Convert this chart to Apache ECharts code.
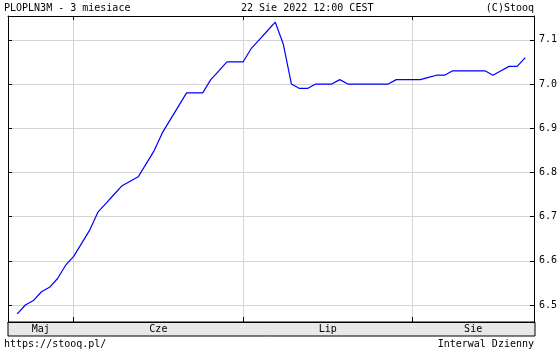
<!DOCTYPE html>
<html><head><meta charset="utf-8">
<script src="https://cdn.jsdelivr.net/npm/echarts@6/dist/echarts.min.js"></script>
<style>html,body{margin:0;padding:0;background:#fff}#c{width:560px;height:350px}</style>
</head><body><div id="c"></div>
<script>
// Trading days (x positions are the index of each day)
var dates = [
 '2022-05-23','2022-05-24','2022-05-25','2022-05-26','2022-05-27','2022-05-30','2022-05-31',
 '2022-06-01','2022-06-02','2022-06-03','2022-06-06','2022-06-07','2022-06-08','2022-06-09','2022-06-10',
 '2022-06-13','2022-06-14','2022-06-15','2022-06-17','2022-06-20','2022-06-21','2022-06-22','2022-06-23',
 '2022-06-24','2022-06-27','2022-06-28','2022-06-29','2022-06-30',
 '2022-07-01','2022-07-04','2022-07-05','2022-07-06','2022-07-07','2022-07-08','2022-07-11','2022-07-12',
 '2022-07-13','2022-07-14','2022-07-15','2022-07-18','2022-07-19','2022-07-20','2022-07-21','2022-07-22',
 '2022-07-25','2022-07-26','2022-07-27','2022-07-28','2022-07-29',
 '2022-08-01','2022-08-02','2022-08-03','2022-08-04','2022-08-05','2022-08-08','2022-08-09','2022-08-10',
 '2022-08-11','2022-08-12','2022-08-16','2022-08-17','2022-08-18','2022-08-19','2022-08-22'
];
var values = [
 6.48,6.50,6.51,6.53,6.54,6.56,6.59,
 6.61,6.64,6.67,6.71,6.73,6.75,6.77,6.78,
 6.79,6.82,6.85,6.89,6.92,6.95,6.98,6.98,
 6.98,7.01,7.03,7.05,7.05,
 7.05,7.08,7.10,7.12,7.14,7.09,7.00,6.99,
 6.99,7.00,7.00,7.00,7.01,7.00,7.00,7.00,
 7.00,7.00,7.00,7.01,7.01,
 7.01,7.01,7.015,7.02,7.02,7.03,7.03,7.03,
 7.03,7.03,7.02,7.03,7.04,7.04,7.06
];
var monthNames = ['Maj','Cze','Lip','Sie'];
var yTicks = ['6.5','6.6','6.7','6.8','6.9','7.0','7.1'];
var titleLeft = 'PLOPLN3M - 3 miesiace';
var titleMid = '22 Sie 2022 12:00 CEST';
var titleRight = '(C)Stooq';
var footLeft = 'https://stooq.pl/';
var footRight = 'Interwal Dzienny';

var X_MIN = -1.15, X_MAX = 64.08;
var Y_MIN = 6.4615, Y_MAX = 7.154;

// month boundaries = first trading day of each month
var bounds = [];
for (var i = 1; i < dates.length; i++) {
  if (dates[i].slice(5,7) !== dates[i-1].slice(5,7)) bounds.push(i);
}
var edges = [X_MIN].concat(bounds).concat([X_MAX]);
var labelPos = [];
for (var k = 0; k < edges.length - 1; k++) labelPos.push((edges[k] + edges[k+1]) / 2);

var data = values.map(function (v, i) { return [i, v]; });
var font = 'DejaVu Sans Mono';
var ts = {fontFamily: font, fontSize: 10, fontWeight: 'normal', color: '#000'};

var chart = echarts.init(document.getElementById('c'), null, {renderer: 'canvas'});
chart.setOption({
  animation: false,
  backgroundColor: '#fff',
  title: [
    {text: titleLeft, left: 4, top: 3, padding: 0, textStyle: ts},
    {text: titleMid, left: 241, top: 3, padding: 0, textStyle: ts},
    {text: titleRight, right: 26, top: 3, padding: 0, textStyle: ts},
    {text: footLeft, left: 4, top: 339, padding: 0, textStyle: ts},
    {text: footRight, right: 26, top: 339, padding: 0, textStyle: ts}
  ],
  graphic: [{
    type: 'rect', z: -10, silent: true,
    shape: {x: 8, y: 322, width: 527, height: 14},
    style: {fill: '#e8e8e8', stroke: '#000', lineWidth: 1}
  }],
  grid: {left: 8, right: 25, top: 16, bottom: 28, containLabel: false},
  xAxis: [{
    type: 'value', min: X_MIN, max: X_MAX, position: 'bottom', z: 5,
    axisLine: {show: true, onZero: false, lineStyle: {color: '#000', width: 1}},
    axisTick: {show: true, inside: true, length: 5, customValues: bounds, lineStyle: {color: '#000'}},
    axisLabel: {show: true, customValues: labelPos, margin: 2, fontFamily: font, fontSize: 10, color: '#000',
      formatter: function (v) {
        for (var j = 0; j < labelPos.length; j++) if (Math.abs(labelPos[j] - v) < 1e-6) return monthNames[j];
        return '';
      }},
    splitLine: {show: true, lineStyle: {color: '#d4d4d4', width: 1}}
  }, {
    type: 'value', min: X_MIN, max: X_MAX, position: 'top', z: 5,
    axisLine: {show: true, onZero: false, lineStyle: {color: '#000', width: 1}},
    axisTick: {show: true, inside: true, length: 4, customValues: bounds, lineStyle: {color: '#000'}},
    axisLabel: {show: false},
    splitLine: {show: false}
  }],
  yAxis: [{
    type: 'value', min: Y_MIN, max: Y_MAX, position: 'right', minInterval: 0.1, maxInterval: 0.1,
    axisLine: {show: true, onZero: false, lineStyle: {color: '#000', width: 1}},
    axisTick: {show: true, inside: true, length: 4, lineStyle: {color: '#000'}},
    axisLabel: {show: true, margin: 5, fontFamily: font, fontSize: 10, color: '#000',
      showMinLabel: false, showMaxLabel: false,
      formatter: function (v) {
        var s = v.toFixed(1);
        return yTicks.indexOf(s) >= 0 && Math.abs(v - parseFloat(s)) < 1e-6 ? s : '';
      }},
    splitLine: {show: true, lineStyle: {color: '#d4d4d4', width: 1}}
  }, {
    type: 'value', min: Y_MIN, max: Y_MAX, position: 'left', minInterval: 0.1, maxInterval: 0.1,
    axisLine: {show: true, onZero: false, lineStyle: {color: '#000', width: 1}},
    axisTick: {show: true, inside: true, length: 4, lineStyle: {color: '#000'}},
    axisLabel: {show: false},
    splitLine: {show: false}
  }],
  series: [{
    type: 'line', xAxisIndex: 0, yAxisIndex: 0, z: 10,
    data: data, showSymbol: false, symbol: 'none',
    lineStyle: {color: '#0000ff', width: 1.2}
  }]
});
</script></body></html>
